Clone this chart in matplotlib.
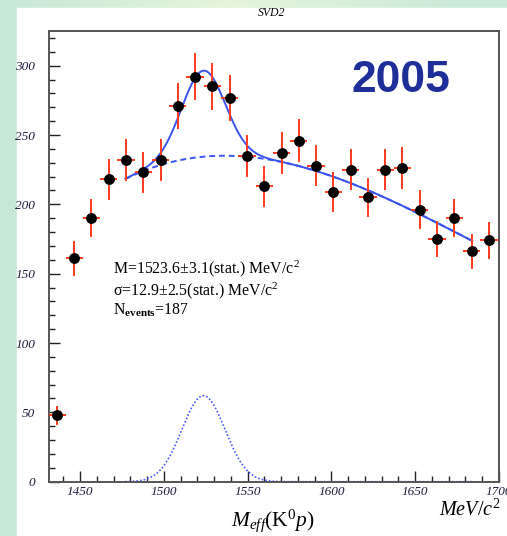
import numpy as np
import matplotlib
matplotlib.use("Agg")
import matplotlib.pyplot as plt
from matplotlib.patches import Rectangle
from matplotlib.ticker import MultipleLocator

# ---- data ----
mass = [1436.1, 1446.4, 1456.7, 1467.0, 1477.4, 1487.7, 1498.0, 1508.3, 1518.6,
        1528.9, 1539.3, 1549.6, 1559.9, 1570.2, 1580.5, 1590.8, 1601.1, 1611.5,
        1621.8, 1632.1, 1642.4, 1652.7, 1663.0, 1673.3, 1683.7, 1694.0]
counts = [48, 161, 190, 218, 232, 223, 232, 271, 292, 285, 277, 235, 213, 237,
          246, 228, 209, 225, 205, 225, 226, 196, 175, 190, 166, 174]
errors = [6.9, 12.7, 13.8, 14.8, 15.2, 14.9, 15.2, 16.5, 17.1, 16.9, 16.6, 15.3,
          14.6, 15.4, 15.7, 15.1, 14.5, 15.0, 14.3, 15.0, 15.0, 14.0, 13.2, 13.8,
          12.9, 13.2]
half_bin = 5.15

# fit parameters (Gaussian signal + cubic background)
fit_lo, fit_hi = 1477.0, 1684.0
peak_mass = 1523.6
peak_sigma = 12.9
peak_amp = 62.0
bg_center = 1580.0
bg_coef = [227.79, -0.3144, -0.002968, 9.50e-6]

x_ticks = [1450, 1500, 1550, 1600, 1650, 1700]
y_ticks = [0, 50, 100, 150, 200, 250, 300]

plt.rcParams["mathtext.fontset"] = "custom"
plt.rcParams["mathtext.rm"] = "Liberation Serif"
plt.rcParams["mathtext.it"] = "Liberation Serif:italic"
plt.rcParams["mathtext.bf"] = "Liberation Serif:bold"

W, H = 507, 536
fig = plt.figure(figsize=(W / 100, H / 100), dpi=100)

# background: mint/yellow gradient and white panel
bgax = fig.add_axes([0, 0, 1, 1])
bgax.set_axis_off()
xs = np.linspace(0, 1, 200)
c_left = np.array([0.78, 0.91, 0.84])
c_mid = np.array([0.90, 0.96, 0.86])
c_right = np.array([0.80, 0.92, 0.85])
w = np.clip(1 - np.abs(xs - 0.45) / 0.45, 0, 1)
cols = np.where(xs[:, None] < 0.45,
                c_left * (1 - w[:, None]) + c_mid * w[:, None],
                c_right * (1 - w[:, None]) + c_mid * w[:, None])
bgax.imshow(cols[None, :, :], aspect="auto", extent=[0, 1, 0, 1])
bgax.add_patch(Rectangle((17 / W, 0), 1 - 17 / W, 1 - 8 / H, color="white",
                         transform=bgax.transAxes, zorder=2))
bgax.set_xlim(0, 1)
bgax.set_ylim(0, 1)

ax = fig.add_axes([49 / W, 1 - 481.7 / H, 450 / W, 450.7 / H])
ax.set_xlim(1431.4, 1699.4)
ax.set_ylim(0, 325)

# fit curves
xf = np.linspace(fit_lo, fit_hi, 400)
u = xf - bg_center
bg = bg_coef[0] + bg_coef[1] * u + bg_coef[2] * u ** 2 + bg_coef[3] * u ** 3
sig = peak_amp * np.exp(-0.5 * ((xf - peak_mass) / peak_sigma) ** 2)
blue = "#3a55ee"
ax.plot(xf, bg, color=blue, lw=1.4, ls=(0, (3, 2)), zorder=2)
ax.plot(xf, sig, color="#4a5cff", lw=1.2, ls=(0, (1, 1.2)), zorder=2)
ax.plot(xf, bg + sig, color=blue, lw=1.4, zorder=3)

ax.errorbar(mass, counts, yerr=errors, xerr=half_bin, fmt="o", color="black",
            ms=6.8, ecolor="#ff3b1f", elinewidth=1.4, capsize=0, zorder=4)

for s in ax.spines.values():
    s.set_color("#555555")
    s.set_linewidth(1.4)

ax.set_xticks(x_ticks)
ax.set_yticks(y_ticks)
ax.xaxis.set_minor_locator(MultipleLocator(10))
ax.yaxis.set_minor_locator(MultipleLocator(10))
ax.tick_params(which="both", direction="in", top=False, right=False,
               color="#222222", width=1.0, labelcolor="#1c1c3a")
ax.tick_params(which="major", length=8)
ax.tick_params(axis="x", which="major", pad=3)
ax.tick_params(axis="y", which="major", pad=10)
ax.tick_params(which="minor", length=4)
ax.set_xticklabels([str(v) for v in x_ticks], fontfamily="Liberation Serif",
                   fontstyle="italic", fontsize=9.5)
ax.set_yticklabels([str(v) for v in y_ticks], fontfamily="Liberation Serif",
                   fontstyle="italic", fontsize=9.5)

fig.text(272 / W, 1 - 13 / H, "SVD2", ha="center", va="center",
         fontfamily="Liberation Serif", fontstyle="italic", fontsize=8.5)
fig.text(401 / W, 1 - 80 / H, "2005", ha="center", va="center",
         fontfamily="Liberation Sans", fontweight="bold", fontsize=32,
         color="#1f2f99")

txt_kw = dict(fontfamily="Liberation Serif", fontsize=11.4, ha="left", va="center")
fig.text(113 / W, 1 - 269 / H, "M=1523.6\u00b13.1(stat.) MeV/c$^2$", **txt_kw)
fig.text(113 / W, 1 - 291 / H, "\u03c3=12.9\u00b12.5(stat.) MeV/c$^2$", **txt_kw)
fig.text(113 / W, 1 - 310 / H, "N$_{\\mathbf{events}}$=187", **txt_kw)

fig.text(273 / W, 1 - 521 / H, r"$M_{eff}(\mathrm{K}^{0}p)$", ha="center",
         va="center", fontsize=15.5)
fig.text(470 / W, 1 - 509 / H, r"$MeV/c^{2}$", ha="center", va="center",
         fontsize=14.5)

fig.savefig("out.png", dpi=100)
